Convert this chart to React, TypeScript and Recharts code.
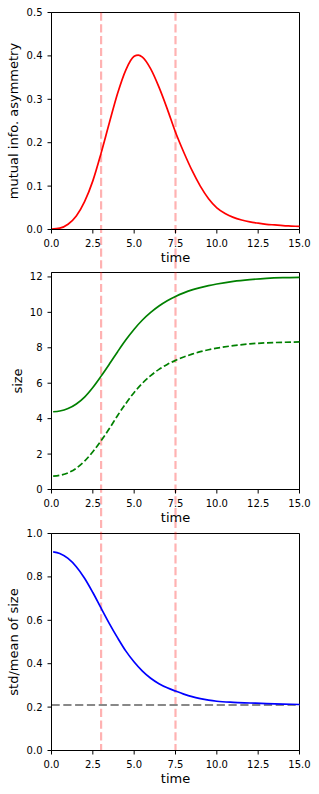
import React from 'react';
import { LineChart, Line, XAxis, YAxis, ReferenceLine, ReferenceArea } from 'recharts';

const FONT = '"DejaVu Sans", sans-serif';

// top panel: mutual information asymmetry
const miTime = [0, 0.5, 1, 1.5, 2, 2.5, 3, 3.5, 4, 4.5, 5, 5.25, 5.5, 6, 6.5, 7, 7.5, 8, 8.5, 9, 9.5, 10, 10.5, 11, 11.5, 12, 12.5, 13, 13.5, 14, 14.5, 15];
const mutualInfo = [0.001, 0.003, 0.012, 0.031, 0.064, 0.112, 0.176, 0.246, 0.314, 0.368, 0.399, 0.402, 0.397, 0.37, 0.328, 0.278, 0.224, 0.178, 0.136, 0.1, 0.071, 0.05, 0.037, 0.028, 0.022, 0.0175, 0.0145, 0.012, 0.0105, 0.009, 0.008, 0.007];

// middle + bottom panels: size statistics
const sizeTime = [0.1, 0.5, 1, 1.5, 2, 2.5, 3, 3.5, 4, 4.5, 5, 5.5, 6, 6.5, 7, 7.5, 8, 8.5, 9, 9.5, 10, 11, 12, 13, 14, 15];
const sizeMean = [4.39, 4.43, 4.57, 4.83, 5.22, 5.76, 6.4, 7.08, 7.78, 8.45, 9.05, 9.57, 10.0, 10.36, 10.66, 10.9, 11.1, 11.27, 11.4, 11.51, 11.6, 11.75, 11.85, 11.92, 11.96, 11.98];
const sizeLow = [0.75, 0.8, 0.94, 1.2, 1.6, 2.13, 2.76, 3.44, 4.18, 4.86, 5.48, 6.0, 6.43, 6.78, 7.06, 7.29, 7.48, 7.64, 7.78, 7.89, 7.98, 8.12, 8.22, 8.28, 8.31, 8.33];
const sizeCv = [0.915, 0.908, 0.885, 0.847, 0.794, 0.728, 0.656, 0.585, 0.519, 0.458, 0.408, 0.366, 0.333, 0.308, 0.289, 0.274, 0.26, 0.248, 0.239, 0.232, 0.227, 0.222, 0.219, 0.216, 0.214, 0.212];
const cvLimit = 0.21;

const markTimes = [3, 7.5];
const timeTicks = [0, 2.5, 5, 7.5, 10, 12.5, 15];
const miTicks = [0, 0.1, 0.2, 0.3, 0.4, 0.5];
const sizeTicks = [0, 2, 4, 6, 8, 10, 12];
const cvTicks = [0, 0.2, 0.4, 0.6, 0.8, 1.0];

const miData = miTime.map((time, i) => ({ time, mi: mutualInfo[i] }));
const sizeData = sizeTime.map((time, i) => ({ time, mean: sizeMean[i], low: sizeLow[i] }));
const cvData = sizeTime.map((time, i) => ({ time, cv: sizeCv[i] }));

const WIDTH = 319;
const LEFT = 51.5;
const RIGHT = 19.5;
const PLOT_H = 217;
const MARK_START = 12.5;

const fmt1 = (v: number) => v.toFixed(1);
const fmt0 = (v: number) => String(v);

type PanelProps = {
  top: number;
  height: number;
  marginTop: number;
  data: Record<string, number>[];
  yDomain: [number, number];
  yTicks: number[];
  yFormat: (v: number) => string;
  yLabel: string;
  yLabelX: number;
  markUp: number;
  markDown: number;
  children?: React.ReactNode;
};

const Panel = ({ top, height, marginTop, data, yDomain, yTicks, yFormat, yLabel, yLabelX, markUp, markDown, children }: PanelProps) => {
  const xAxisHeight = height - marginTop - PLOT_H;
  const dashOffset = top + marginTop - markUp - MARK_START;

  const markShape = (p: any) => {
    const y1 = Math.min(p.y1, p.y2) - markUp;
    const y2 = Math.max(p.y1, p.y2) + markDown;
    return (
      <line x1={p.x1} x2={p.x1} y1={y1} y2={y2} stroke="#ff0000" strokeOpacity={0.3}
        strokeWidth={2.2} strokeDasharray="8.2 3.6" strokeDashoffset={dashOffset} />
    );
  };

  const xLabel = (p: any) => {
    const vb = p.viewBox ?? { x: LEFT, y: marginTop + PLOT_H, width: WIDTH - LEFT - RIGHT };
    return (
      <text x={vb.x + vb.width / 2} y={vb.y + 32.5} textAnchor="middle" fontSize={13} fontFamily={FONT} fill="#000">
        time
      </text>
    );
  };

  const yLabelEl = (p: any) => {
    const vb = p.viewBox ?? { y: marginTop, height: PLOT_H };
    const cy = vb.y + vb.height / 2;
    return (
      <text x={yLabelX} y={cy} transform={`rotate(-90 ${yLabelX} ${cy})`} textAnchor="middle"
        fontSize={13} fontFamily={FONT} fill="#000">
        {yLabel}
      </text>
    );
  };

  return (
    <div style={{ position: 'absolute', left: 0, top }}>
      <LineChart width={WIDTH} height={height} data={data}
        margin={{ top: marginTop, right: RIGHT, bottom: 0, left: 0 }}>
        <XAxis type="number" dataKey="time" domain={[0, 15]} ticks={timeTicks} interval={0}
          tickFormatter={fmt1} height={xAxisHeight} stroke="#000" tickSize={4} tickMargin={6}
          tick={{ fontSize: 10, fill: '#000', fontFamily: FONT }}
          label={{ value: 'time', content: xLabel }} />
        <YAxis type="number" domain={yDomain} ticks={yTicks} interval={0} tickFormatter={yFormat}
          width={LEFT} stroke="#000" tickSize={4} tickMargin={5}
          tick={{ fontSize: 10, fill: '#000', fontFamily: FONT }}
          label={{ value: yLabel, content: yLabelEl }} />
        <ReferenceArea x1={0} x2={15} y1={yDomain[0]} y2={yDomain[1]} fill="none" fillOpacity={0}
          stroke="#000" strokeWidth={1} />
        {markTimes.map((t) => (
          <ReferenceLine key={t} x={t} shape={markShape} />
        ))}
        {children}
      </LineChart>
    </div>
  );
};

export default function App() {
  return (
    <div style={{ position: 'absolute', left: 0, top: 0, width: 319, height: 794, background: '#fff' }}>
      <Panel top={0} height={264} marginTop={12.5} data={miData} yDomain={[0, 0.5]} yTicks={miTicks}
        yFormat={fmt1} yLabel="mutual info. asymmetry" yLabelX={17.5} markUp={0} markDown={30.5}>
        <Line type="monotone" dataKey="mi" stroke="#ff0000" strokeWidth={1.7} dot={false} isAnimationActive={false} />
      </Panel>
      <Panel top={260} height={265} marginTop={12.5} data={sizeData} yDomain={[0, 12.25]} yTicks={sizeTicks}
        yFormat={fmt0} yLabel="size" yLabelX={21.5} markUp={12.5} markDown={35.5}>
        <Line type="monotone" dataKey="mean" stroke="#008000" strokeWidth={1.7} dot={false} isAnimationActive={false} />
        <Line type="monotone" dataKey="low" stroke="#008000" strokeWidth={1.7} strokeDasharray="6.2 2.7"
          dot={false} isAnimationActive={false} />
      </Panel>
      <Panel top={525} height={269} marginTop={8.5} data={cvData} yDomain={[0, 1]} yTicks={cvTicks}
        yFormat={fmt1} yLabel="std/mean of size" yLabelX={17.5} markUp={8.5} markDown={0}>
        <ReferenceLine y={cvLimit} stroke="#888888" strokeWidth={2} strokeDasharray="8.2 3.6" />
        <Line type="monotone" dataKey="cv" stroke="#0000ff" strokeWidth={1.7} dot={false} isAnimationActive={false} />
      </Panel>
    </div>
  );
}
